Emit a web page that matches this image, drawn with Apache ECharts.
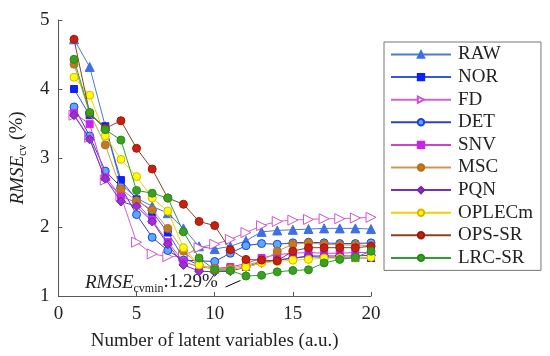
<!DOCTYPE html>
<html><head><meta charset="utf-8">
<script src="https://cdn.jsdelivr.net/npm/echarts@6/dist/echarts.min.js"></script>
<style>html,body{margin:0;padding:0;background:#fff}#c{width:550px;height:356px}</style>
</head><body><div id="c"></div>
<script>
const xs = [1,2,3,4,5,6,7,8,9,10,11,12,13,14,15,16,17,18,19,20];
const names = ['RAW','NOR','FD','DET','SNV','MSC','PQN','OPLECm','OPS-SR','LRC-SR'];
const RAW    = [4.72,4.32,3.46,2.62,2.42,2.30,2.20,1.98,1.72,1.68,1.72,1.80,1.93,1.95,1.96,1.97,1.98,1.98,1.98,1.97];
const NOR    = [4.00,3.62,3.46,2.68,2.40,2.22,1.92,1.55,1.45,1.38,1.38,1.42,1.50,1.52,1.55,1.57,1.56,1.56,1.55,1.55];
const FD     = [3.62,3.30,2.68,2.45,1.78,1.61,1.57,1.58,1.70,1.75,1.82,1.92,2.02,2.08,2.10,2.11,2.12,2.12,2.13,2.14];
const DET    = [3.74,3.32,2.81,2.58,2.18,1.85,1.66,1.52,1.51,1.50,1.62,1.73,1.76,1.75,1.77,1.78,1.77,1.76,1.76,1.77];
const SNV    = [3.65,3.49,2.72,2.45,2.35,2.10,1.78,1.50,1.42,1.40,1.42,1.47,1.55,1.60,1.62,1.63,1.62,1.62,1.63,1.63];
const MSC    = [4.36,3.65,3.19,2.55,2.38,2.25,1.98,1.65,1.45,1.40,1.40,1.45,1.50,1.65,1.75,1.77,1.75,1.74,1.74,1.73];
const PQN    = [3.62,3.27,2.70,2.37,2.30,2.08,1.75,1.45,1.36,1.35,1.36,1.42,1.48,1.52,1.55,1.58,1.58,1.58,1.58,1.59];
const OPLECm = [4.17,3.91,3.32,2.98,2.73,2.42,2.23,1.70,1.45,1.38,1.38,1.42,1.48,1.50,1.52,1.53,1.55,1.55,1.55,1.56];
const OPSSR  = [4.72,3.65,3.43,3.54,3.14,2.84,2.42,2.33,2.08,2.02,1.67,1.53,1.52,1.51,1.65,1.70,1.70,1.70,1.70,1.72];
const LRCSR  = [4.43,3.66,3.41,3.26,2.53,2.49,2.42,1.93,1.55,1.38,1.37,1.29,1.30,1.35,1.37,1.38,1.48,1.53,1.56,1.65];
const values = [RAW,NOR,FD,DET,SNV,MSC,PQN,OPLECm,OPSSR,LRCSR];
const xTicks = [0,5,10,15,20];
const yTicks = [1,2,3,4,5];

const styles = [
  {line:'#4a78d8', sym:'triangle', size:9, fill:'#3d6fe6', border:'#3d6fe6'},
  {line:'#3a56d8', sym:'rect', size:7, fill:'#0a22ff', border:'#0a22ff'},
  {line:'#cc66cc', sym:'triangle', size:10, fill:'#ffffff', border:'#cc55cc', rot:-90},
  {line:'#3040cc', sym:'circle', size:8, fill:'#5aa8ff', border:'#2040e0'},
  {line:'#cc44cc', sym:'rect', size:7, fill:'#cc22ee', border:'#cc22ee'},
  {line:'#c89a50', sym:'circle', size:8, fill:'#c07a20', border:'#b86e18'},
  {line:'#7030c0', sym:'diamond', size:9, fill:'#9a30d0', border:'#7a20b0'},
  {line:'#e8d400', sym:'circle', size:8, fill:'#ffff00', border:'#e0b000'},
  {line:'#8b4020', sym:'circle', size:8, fill:'#c82010', border:'#a01808'},
  {line:'#2e9e2e', sym:'circle', size:8, fill:'#3aa020', border:'#2a8a18'}
];
const font = 'Liberation Serif, Times New Roman, serif';
const series = names.map((n,i)=>{
  const s = styles[i];
  const o = {
    name:n, type:'line', data: xs.map((x,j)=>[x, values[i][j]]),
    symbol:s.sym, symbolSize:s.size, symbolRotate:s.rot||0,
    lineStyle:{color:s.line, width:1},
    itemStyle:{color:s.fill, borderColor:s.border, borderWidth:1},
    emphasis:{disabled:true}, animation:false, z: 2+i
  };
  if (n==='LRC-SR') {
    o.markLine = {
      silent:true, symbol:['none','arrow'], symbolSize:[0,8],
      lineStyle:{color:'#000', width:1, type:'solid'}, label:{show:false},
      data:[[{coord:[10.7,1.13]},{coord:[11.65,1.225]}]]
    };
  }
  return o;
});

const chart = echarts.init(document.getElementById('c'), null, {renderer:'canvas'});
chart.setOption({
  animation:false,
  textStyle:{fontFamily:font},
  grid:{left:51, right:179, top:20, bottom:60, containLabel:false},
  xAxis:{type:'value', min:0, max:20, interval:5,
    name:'Number of latent variables (a.u.)', nameLocation:'middle', nameGap:36,
    nameTextStyle:{fontFamily:font, fontSize:19, color:'#222'},
    axisLine:{lineStyle:{color:'#555'}}, axisTick:{inside:true, length:4, lineStyle:{color:'#555'}},
    axisLabel:{fontFamily:font, fontSize:19, color:'#222', margin:9}, splitLine:{show:false}},
  yAxis:{type:'value', min:1, max:5, interval:1,
    name:'{i|RMSE}{s|cv}{n| (%)}', nameLocation:'middle', nameGap:24, nameRotate:90,
    nameTextStyle:{fontFamily:font, color:'#222', rich:{
      i:{fontFamily:font, fontSize:19, fontStyle:'italic', color:'#222', verticalAlign:'bottom', lineHeight:22},
      s:{fontFamily:font, fontSize:12, color:'#222', verticalAlign:'bottom', lineHeight:16, padding:[0,0,-2,0]},
      n:{fontFamily:font, fontSize:19, color:'#222', verticalAlign:'bottom', lineHeight:22}}},
    axisLine:{show:true, lineStyle:{color:'#555'}}, axisTick:{show:true, inside:true, length:4, lineStyle:{color:'#555'}},
    axisLabel:{fontFamily:font, fontSize:19, color:'#222', margin:9}, splitLine:{show:false}},
  legend:{orient:'vertical', left:384, top:42, padding:[3,8,3,6], itemWidth:60, itemHeight:8, itemGap:3.6,
    borderColor:'#777', borderWidth:1, data:names, selectedMode:false,
    textStyle:{fontFamily:font, fontSize:19, color:'#222', padding:[0,0,0,2]}},
  graphic:[{type:'text', left:85, top:273, silent:true, style:{
    text:'{i|RMSE}{s|cvmin}{n|:1.29%}', fontFamily:font,
    rich:{i:{fontFamily:font, fontSize:19, fontStyle:'italic', fill:'#222', verticalAlign:'bottom', lineHeight:22},
          s:{fontFamily:font, fontSize:12, fill:'#222', verticalAlign:'bottom', lineHeight:16, padding:[0,0,-3,0]},
          n:{fontFamily:font, fontSize:19, fill:'#222', verticalAlign:'bottom', lineHeight:22}}}}],
  series
});
</script></body></html>
